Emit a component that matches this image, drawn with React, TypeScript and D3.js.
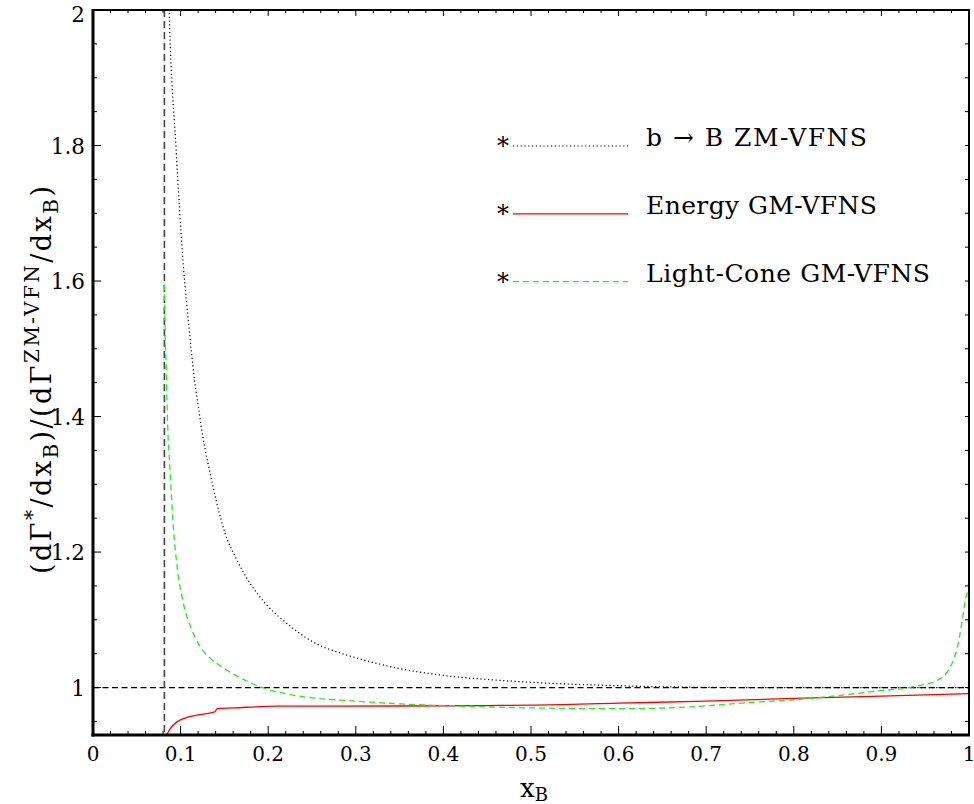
import { curveMonotoneX, line, range, scaleLinear } from 'd3';

type Pt = [number, number];

// series (x_B, ratio)
const zmSeries: Pt[] = [
  [0.0855, 2.08], [0.087, 2.0], [0.0946, 1.8], [0.103, 1.625], [0.1099, 1.528], [0.1145, 1.469],
  [0.1202, 1.415], [0.1259, 1.366], [0.1336, 1.317], [0.1412, 1.273], [0.1507, 1.228], [0.164, 1.189],
  [0.1792, 1.154], [0.1983, 1.122], [0.221, 1.095], [0.2439, 1.073], [0.2591, 1.062], [0.28, 1.052],
  [0.3, 1.044], [0.35, 1.028], [0.4, 1.018], [0.46, 1.011], [0.52, 1.0065], [0.58, 1.0035],
  [0.65, 1.0012], [0.75, 1.0], [0.9, 1.0], [1.0, 1.0],
];
const energySeries: Pt[] = [
  [0.0825, 0.926], [0.088, 0.939], [0.0954, 0.949], [0.105, 0.955], [0.122, 0.96], [0.139, 0.964],
  [0.1418, 0.969], [0.16, 0.970], [0.21, 0.9725], [0.35, 0.9728], [0.45, 0.9735], [0.5, 0.974],
  [0.6, 0.977], [0.7, 0.98], [0.8, 0.984], [0.9, 0.9875], [1.0, 0.991],
];
const lightConeSeries: Pt[] = [
  [0.0815, 1.595], [0.0822, 1.528], [0.0836, 1.474], [0.0848, 1.405], [0.0879, 1.322],
  [0.0917, 1.238], [0.0955, 1.184], [0.1031, 1.125], [0.1126, 1.086], [0.1259, 1.054],
  [0.135, 1.042], [0.1453, 1.032], [0.1682, 1.0143], [0.191, 1.001], [0.2246, 0.9897], [0.3, 0.98],
  [0.35, 0.976], [0.45, 0.9715], [0.5, 0.970], [0.56, 0.969], [0.62, 0.969], [0.7, 0.973],
  [0.75, 0.978], [0.8, 0.982], [0.832, 0.9857], [0.8936, 0.9946], [0.935, 1.001], [0.9658, 1.012],
  [0.985, 1.051], [0.9924, 1.1], [0.996, 1.13], [1.0, 1.147],
];

const xTickLabels = ['0', '0.1', '0.2', '0.3', '0.4', '0.5', '0.6', '0.7', '0.8', '0.9', '1'];
const yTickLabels = ['1', '1.2', '1.4', '1.6', '1.8', '2'];
const legendLabels = ['b \u2192 B ZM-VFNS', 'Energy GM-VFNS', 'Light-Cone GM-VFNS'];
const thresholdX = 0.0815;

const width = 974;
const height = 804;
const plot = { left: 93, right: 969, top: 10, bottom: 735 };
// Liberation Serif does not resolve in the renderer, DejaVu Serif does
const font = "'DejaVu Serif', 'Liberation Serif', serif";

const styles = [
  { stroke: '#000000', dash: '1.2 2.6', width: 1.2 },
  { stroke: '#ff0000', dash: undefined, width: 1.3 },
  { stroke: '#22ee22', dash: '6 4', width: 1.3 },
];
const legendTextWidths = [221, 231, 284];

export default function App() {
  const x = scaleLinear().domain([0, 1]).range([plot.left, plot.right]);
  const y = scaleLinear().domain([0.93, 2]).range([plot.bottom, plot.top]);

  const path = line<Pt>()
    .x(d => x(d[0]))
    .y(d => y(d[1]))
    .curve(curveMonotoneX);

  const series = [zmSeries, energySeries, lightConeSeries];

  const xMinor = range(0, 1.0001, 0.02);
  const yMinor = range(0.95, 2.0001, 0.05);

  return (
    <svg width={width} height={height} style={{ position: 'absolute', left: 0, top: 0, background: '#fff', fontFamily: font }}>
      <defs>
        <clipPath id="plot-clip">
          <rect x={plot.left} y={plot.top} width={plot.right - plot.left} height={plot.bottom - plot.top} />
        </clipPath>
      </defs>

      {/* ticks, all pointing inwards */}
      {xMinor.map(v => {
        const major = Math.abs(v * 10 - Math.round(v * 10)) < 1e-6;
        return (
          <g key={`x${v}`} stroke="#000" strokeWidth={1}>
            <line x1={x(v)} x2={x(v)} y1={plot.bottom} y2={plot.bottom - (major ? 9 : 4)} />
            <line x1={x(v)} x2={x(v)} y1={plot.top} y2={plot.top + (major ? 6 : 3)} />
          </g>
        );
      })}
      {yMinor.map(v => {
        const major = Math.abs(v * 5 - Math.round(v * 5)) < 1e-6;
        return (
          <g key={`y${v}`} stroke="#000" strokeWidth={1}>
            <line x1={plot.left} x2={plot.left + (major ? 8 : 4)} y1={y(v)} y2={y(v)} />
            <line x1={plot.right} x2={plot.right - 4} y1={y(v)} y2={y(v)} />
          </g>
        );
      })}

      {/* reference lines */}
      <line x1={plot.left} x2={plot.right} y1={y(1)} y2={y(1)} stroke="#000" strokeWidth={1.3} strokeDasharray="6 3.5" />
      <line x1={x(thresholdX)} x2={x(thresholdX)} y1={plot.top} y2={plot.bottom} stroke="#444" strokeWidth={1.6} strokeDasharray="7 4" />

      <g clipPath="url(#plot-clip)">
        {series.map((s, i) => (
          <path key={i} d={path(s) ?? ''} fill="none" stroke={styles[i].stroke} strokeWidth={styles[i].width} strokeDasharray={styles[i].dash} />
        ))}
      </g>

      {/* frame */}
      <line x1={plot.left} x2={plot.right + 1} y1={plot.top} y2={plot.top} stroke="#000" strokeWidth={2} />
      <line x1={plot.right} x2={plot.right} y1={plot.top} y2={plot.bottom} stroke="#000" strokeWidth={2} />
      <line x1={plot.left} x2={plot.left} y1={plot.top - 1} y2={plot.bottom + 1.5} stroke="#000" strokeWidth={3} />
      <line x1={plot.left - 1.5} x2={plot.right + 1} y1={plot.bottom} y2={plot.bottom} stroke="#000" strokeWidth={3} />

      {xTickLabels.map(label => (
        <text key={label} x={x(+label)} y={761} textAnchor="middle" fontSize={20} fill="#000">{label}</text>
      ))}
      {yTickLabels.map(label => (
        <text key={label} x={85} y={Math.max(y(+label) + 8, 22)} textAnchor="end" fontSize={21.5} fill="#000">{label}</text>
      ))}

      <text x={520} y={797} fontSize={26} fill="#000">
        x<tspan fontSize={18} dy={4}>B</tspan>
      </text>

      <text transform="translate(51,380) rotate(-90)" textAnchor="middle" fontSize={27} fill="#000" textLength={388} lengthAdjust="spacing">
        (dΓ<tspan fontSize={20} dy={-12}>*</tspan>
        <tspan dy={12}>/dx</tspan>
        <tspan fontSize={20} dy={7}>B</tspan>
        <tspan dy={-7}>)/(dΓ</tspan>
        <tspan fontSize={20} dy={-12}>ZM-VFN</tspan>
        <tspan dy={12}>/dx</tspan>
        <tspan fontSize={20} dy={7}>B</tspan>
        <tspan dy={-7}>)</tspan>
      </text>

      {legendLabels.map((label, i) => {
        const ly = 146 + i * 67.8;
        return (
          <g key={label}>
            <text x={503} y={ly + 8} textAnchor="middle" fontSize={24} fill="#000">*</text>
            <line x1={513} x2={628} y1={ly} y2={ly} stroke={styles[i].stroke} strokeWidth={styles[i].width} strokeDasharray={styles[i].dash} />
            <text x={646} y={ly} fontSize={25} fill="#000" textLength={legendTextWidths[i]} lengthAdjust="spacing">{label}</text>
          </g>
        );
      })}
    </svg>
  );
}
